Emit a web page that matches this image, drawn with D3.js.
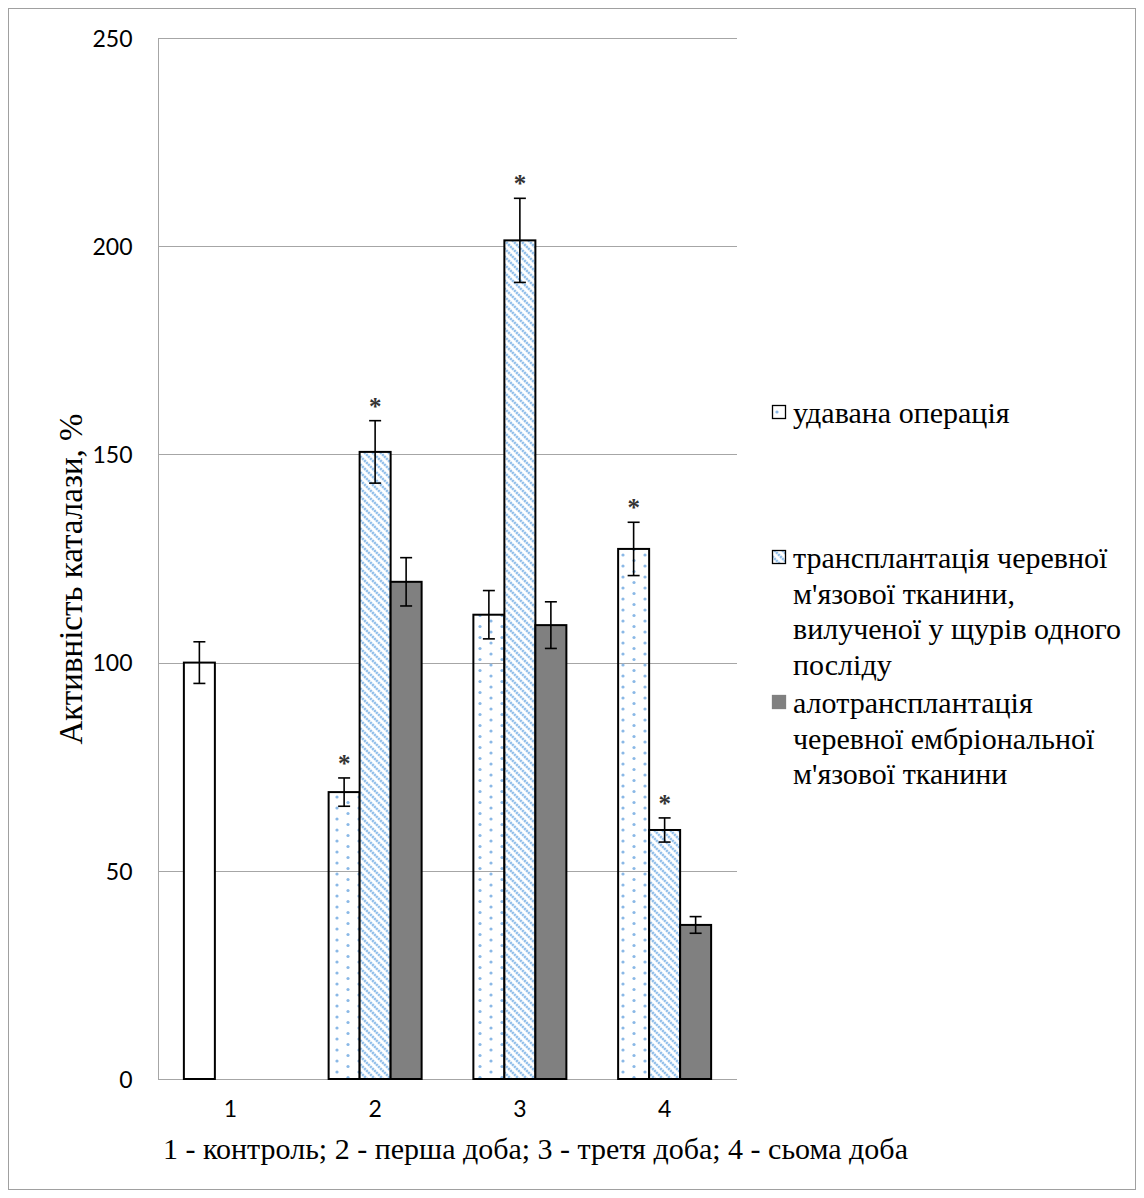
<!DOCTYPE html>
<html>
<head>
<meta charset="utf-8">
<script src="https://cdn.jsdelivr.net/npm/d3@7"></script>
<style>
  html, body { margin: 0; padding: 0; background: #fff; }
  svg { display: block; }
</style>
</head>
<body>
<svg id="chart" width="1144" height="1198"></svg>
<script>
// Catalase activity (% of control) by observation day and treatment group
const categories = ["1", "2", "3", "4"];
const yTicks = [0, 50, 100, 150, 200, 250];

const seriesKeys = ["sham", "iso", "allo"];
const legendLines = [
  ["удавана операція"],
  ["трансплантація черевної", "м'язової тканини,", "вилученої у щурів одного", "посліду"],
  ["алотрансплантація", "черевної ембріональної", "м'язової тканини"]
];

// mean values per category (null = no bar)
const shamValues = [100, 68.9, 111.5, 127.3];
const isoValues  = [null, 150.6, 201.4, 59.8];
const alloValues = [null, 119.4, 109.0, 37.0];

// error half-widths
const shamErr = [5.0, 3.4, 5.8, 6.4];
const isoErr  = [null, 7.5, 10.1, 2.9];
const alloErr = [null, 5.8, 5.6, 2.0];

// significant difference markers
const shamSig = [false, true, false, true];
const isoSig  = [false, true, true, true];
const alloSig = [false, false, false, false];

const xTitle = "1 - контроль; 2 - перша доба; 3 - третя доба; 4 - сьома доба";
const yTitle = "Активність каталази, %";

const svg = d3.select("#chart");
const plot = { left: 158, right: 737, top: 38, bottom: 1079 };

const serif = "'Liberation Serif', 'Times New Roman', serif";
const sans = "Lato, 'Open Sans', sans-serif";

// patterns
const defs = svg.append("defs");
const dots = defs.append("pattern").attr("id", "dots")
  .attr("patternUnits", "userSpaceOnUse").attr("width", 22).attr("height", 11)
  .attr("x", 4).attr("y", 2);
dots.append("circle").attr("cx", 3).attr("cy", 3).attr("r", 1.6).attr("fill", "#8ab8e6");
dots.append("circle").attr("cx", 14).attr("cy", 8.5).attr("r", 1.6).attr("fill", "#8ab8e6");

const hatch = defs.append("pattern").attr("id", "hatch")
  .attr("patternUnits", "userSpaceOnUse").attr("width", 8).attr("height", 8);
hatch.append("rect").attr("width", 8).attr("height", 8).attr("fill", "#fff");
hatch.append("path")
  .attr("d", "M-2,-2 L10,10 M-2,6 L2,10 M6,-2 L10,2")
  .attr("stroke", "#92bfea").attr("stroke-width", 2.6)
  .attr("stroke-dasharray", "2.2,0.7");

const fills = { sham: "url(#dots)", iso: "url(#hatch)", allo: "#808080" };

// outer frame
svg.append("rect").attr("x", 8.5).attr("y", 8.5).attr("width", 1127).attr("height", 1181)
  .attr("fill", "#fff").attr("stroke", "#a0a0a0").attr("stroke-width", 1);

// scales
const y = d3.scaleLinear().domain([0, 250]).range([plot.bottom, plot.top]);
const x0 = d3.scaleBand().domain(categories).range([plot.left, plot.right]).paddingInner(0).paddingOuter(0);
const groupW = 93;
const x1 = d3.scaleBand().domain(seriesKeys)
  .range([(x0.bandwidth() - groupW) / 2, (x0.bandwidth() + groupW) / 2]).padding(0);

// gridlines
svg.append("g").selectAll("line").data(yTicks).join("line")
  .attr("x1", plot.left).attr("x2", plot.right)
  .attr("y1", d => Math.round(y(d)) + 0.5).attr("y2", d => Math.round(y(d)) + 0.5)
  .attr("stroke", "#a6a6a6").attr("stroke-width", 1);

// y axis
const yAxis = svg.append("g").attr("transform", `translate(${plot.left + 0.5},0)`)
  .call(d3.axisLeft(y).tickValues(yTicks).tickSize(0).tickPadding(26).tickFormat(d3.format("d")));
yAxis.select(".domain").attr("stroke", "#a6a6a6").attr("d", `M0,${plot.top}V${plot.bottom}`);
yAxis.selectAll("text").attr("font-family", sans).attr("font-size", 23).attr("fill", "#000")
  .attr("dy", "0.36em");

// x axis labels
const xAxis = svg.append("g").attr("transform", `translate(0,${plot.bottom})`)
  .call(d3.axisBottom(x0).tickSize(0).tickPadding(22));
xAxis.select(".domain").remove();
xAxis.selectAll("text").attr("font-family", sans).attr("font-size", 23).attr("fill", "#000");

// bar data
const valuesBy = { sham: shamValues, iso: isoValues, allo: alloValues };
const errBy = { sham: shamErr, iso: isoErr, allo: alloErr };
const sigBy = { sham: shamSig, iso: isoSig, allo: alloSig };

const bars = [];
categories.forEach((c, i) => {
  seriesKeys.forEach(k => {
    const v = valuesBy[k][i];
    if (v == null) return;
    bars.push({ cat: c, idx: i, key: k, value: v, err: errBy[k][i], sig: sigBy[k][i] });
  });
});

svg.append("g").selectAll("rect").data(bars).join("rect")
  .attr("x", d => x0(d.cat) + x1(d.key))
  .attr("y", d => y(d.value))
  .attr("width", x1.bandwidth())
  .attr("height", d => y(0) - y(d.value))
  // the control point is drawn plain
  .attr("fill", d => (d.idx === 0 ? "#fff" : fills[d.key]))
  .attr("stroke", "#000").attr("stroke-width", 2);

// error bars
const errG = svg.append("g").attr("stroke", "#000").attr("stroke-width", 1.6);
bars.forEach(d => {
  const cx = x0(d.cat) + x1(d.key) + x1.bandwidth() / 2;
  const top = y(d.value + d.err), bot = y(d.value - d.err);
  errG.append("line").attr("x1", cx).attr("x2", cx).attr("y1", top).attr("y2", bot);
  errG.append("line").attr("x1", cx - 6).attr("x2", cx + 6).attr("y1", top).attr("y2", top);
  errG.append("line").attr("x1", cx - 6).attr("x2", cx + 6).attr("y1", bot).attr("y2", bot);
});

// significance asterisks
svg.append("g").selectAll("text").data(bars.filter(d => d.sig)).join("text")
  .attr("x", d => x0(d.cat) + x1(d.key) + x1.bandwidth() / 2)
  .attr("y", d => y(d.value + d.err) - 6)
  .attr("text-anchor", "middle")
  .attr("font-family", serif).attr("font-weight", "bold").attr("font-size", 25)
  .attr("fill", "#333")
  .text("*");

// y title
svg.append("text")
  .attr("transform", `translate(82,579) rotate(-90)`)
  .attr("text-anchor", "middle")
  .attr("font-family", serif).attr("font-size", 33).attr("fill", "#000")
  .text(yTitle);

// x title
svg.append("text")
  .attr("x", 163).attr("y", 1159)
  .attr("font-family", serif).attr("font-size", 30).attr("fill", "#000")
  .text(xTitle);

// legend
const legendTop = [423, 568, 713];
const lineH = 35.5;
const legend = svg.append("g");
seriesKeys.forEach((k, i) => {
  const g = legend.append("g");
  g.append("rect")
    .attr("x", 772.5).attr("y", legendTop[i] - 17.5).attr("width", 13).attr("height", 13)
    .attr("fill", k === "allo" ? "#808080" : fills[k])
    .attr("stroke", k === "allo" ? "#808080" : "#000").attr("stroke-width", 1.3);
  const t = g.append("text")
    .attr("font-family", serif).attr("font-size", 30).attr("fill", "#000");
  legendLines[i].forEach((line, j) => {
    t.append("tspan").attr("x", 793).attr("y", legendTop[i] + j * lineH).text(line);
  });
});
</script>
</body>
</html>
